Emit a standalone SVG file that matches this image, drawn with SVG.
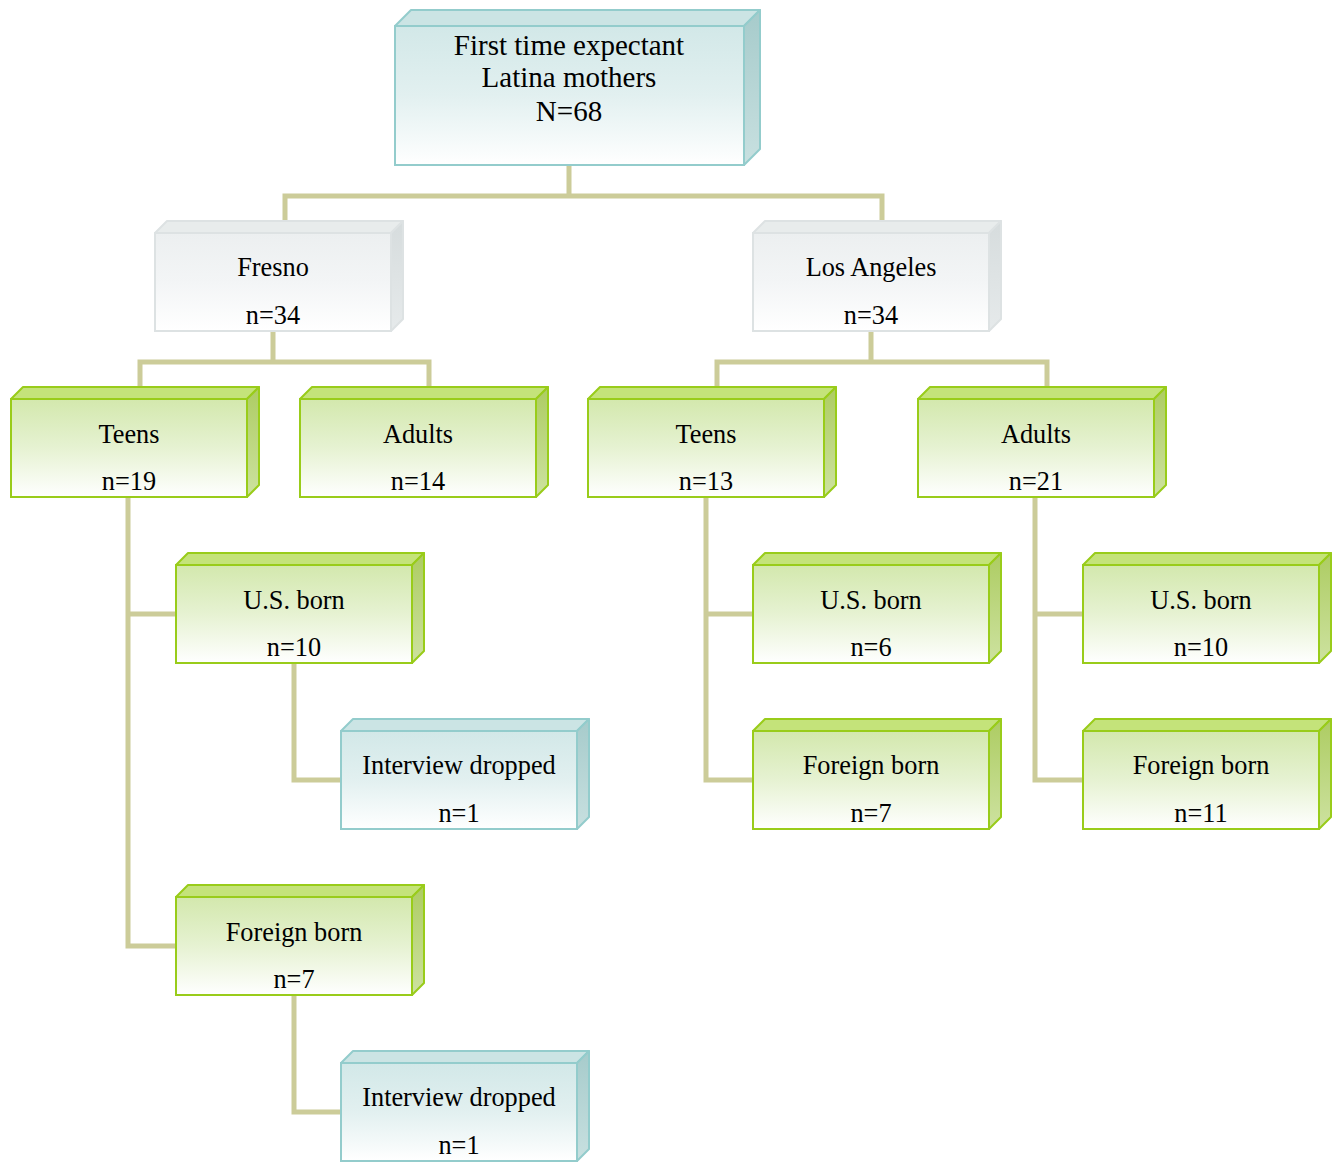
<svg xmlns="http://www.w3.org/2000/svg" width="1333" height="1162" viewBox="0 0 1333 1162">
<defs>
<linearGradient id="gG" x1="0" y1="0" x2="0" y2="1"><stop offset="0" stop-color="#d3e8ad"/><stop offset="0.5" stop-color="#e6f2d2"/><stop offset="1" stop-color="#ffffff"/></linearGradient>
<linearGradient id="gB" x1="0" y1="0" x2="0" y2="1"><stop offset="0" stop-color="#d2e8e8"/><stop offset="0.5" stop-color="#e2f0f0"/><stop offset="1" stop-color="#ffffff"/></linearGradient>
<linearGradient id="gW" x1="0" y1="0" x2="0" y2="1"><stop offset="0" stop-color="#eceff0"/><stop offset="0.5" stop-color="#f3f5f6"/><stop offset="1" stop-color="#ffffff"/></linearGradient>
<linearGradient id="gGs" x1="0" y1="0" x2="0" y2="1"><stop offset="0" stop-color="#adcc62"/><stop offset="1" stop-color="#cde2a0"/></linearGradient>
<linearGradient id="gBs" x1="0" y1="0" x2="0" y2="1"><stop offset="0" stop-color="#a6cbcb"/><stop offset="1" stop-color="#c8e0e0"/></linearGradient>
<linearGradient id="gWs" x1="0" y1="0" x2="0" y2="1"><stop offset="0" stop-color="#d6dcdd"/><stop offset="1" stop-color="#e6eaeb"/></linearGradient>
</defs>
<style>
.g .f{fill:url(#gG);stroke:#99cc1a;stroke-width:2}
.g .t{fill:#c4e37a;stroke:#99cc1a;stroke-width:2;stroke-linejoin:round}
.g .s{fill:url(#gGs);stroke:#99cc1a;stroke-width:2;stroke-linejoin:round}
.b .f{fill:url(#gB);stroke:#93cccc;stroke-width:2}
.b .t{fill:#cbe4e4;stroke:#93cccc;stroke-width:2;stroke-linejoin:round}
.b .s{fill:url(#gBs);stroke:#93cccc;stroke-width:2;stroke-linejoin:round}
.w .f{fill:url(#gW);stroke:#dde2e3;stroke-width:2}
.w .t{fill:#e8ecec;stroke:#dde2e3;stroke-width:2;stroke-linejoin:round}
.w .s{fill:url(#gWs);stroke:#dde2e3;stroke-width:2;stroke-linejoin:round}
text{font-family:'Liberation Serif','Times New Roman',serif;font-size:26.3px;fill:#000;text-anchor:middle}
text.big{font-size:29px}
#connectors path{fill:none;stroke:#cccc99;stroke-width:5}
</style>
<g id="connectors">
<path d="M569 165V196M285 221V196H882V221"/>
<path d="M273 331V362M140 387V362H429V387"/>
<path d="M871 331V362M717 387V362H1047V387"/>
<path d="M128 497V946H176M128 614H176"/>
<path d="M294 663V780H341"/>
<path d="M294 995V1112H341"/>
<path d="M706 497V780H753M706 614H753"/>
<path d="M1035 497V780H1083M1035 614H1083"/>
</g>
<g id="root" class="b">
<path class="t" d="M395 26L411 10H760L744 26Z"/>
<path class="s" d="M744 26L760 10V149L744 165Z"/>
<rect class="f" x="395" y="26" width="349" height="139"/>
<text class="big" x="569" y="55">First time expectant</text>
<text class="big" x="569" y="87">Latina mothers</text>
<text class="big" x="569" y="121">N=68</text>
</g>
<g id="fresno" class="w">
<path class="t" d="M155 233L167 221H403L391 233Z"/>
<path class="s" d="M391 233L403 221V319L391 331Z"/>
<rect class="f" x="155" y="233" width="236" height="98"/>
<text x="273" y="276">Fresno</text><text x="273" y="324">n=34</text>
</g>
<g id="la" class="w">
<path class="t" d="M753 233L765 221H1001L989 233Z"/>
<path class="s" d="M989 233L1001 221V319L989 331Z"/>
<rect class="f" x="753" y="233" width="236" height="98"/>
<text x="871" y="276">Los Angeles</text><text x="871" y="324">n=34</text>
</g>
<g id="f-teens" class="g">
<path class="t" d="M11 399L23 387H259L247 399Z"/>
<path class="s" d="M247 399L259 387V485L247 497Z"/>
<rect class="f" x="11" y="399" width="236" height="98"/>
<text x="129" y="442.5">Teens</text><text x="129" y="490">n=19</text>
</g>
<g id="f-adults" class="g">
<path class="t" d="M300 399L312 387H548L536 399Z"/>
<path class="s" d="M536 399L548 387V485L536 497Z"/>
<rect class="f" x="300" y="399" width="236" height="98"/>
<text x="418" y="442.5">Adults</text><text x="418" y="490">n=14</text>
</g>
<g id="la-teens" class="g">
<path class="t" d="M588 399L600 387H836L824 399Z"/>
<path class="s" d="M824 399L836 387V485L824 497Z"/>
<rect class="f" x="588" y="399" width="236" height="98"/>
<text x="706" y="442.5">Teens</text><text x="706" y="490">n=13</text>
</g>
<g id="la-adults" class="g">
<path class="t" d="M918 399L930 387H1166L1154 399Z"/>
<path class="s" d="M1154 399L1166 387V485L1154 497Z"/>
<rect class="f" x="918" y="399" width="236" height="98"/>
<text x="1036" y="442.5">Adults</text><text x="1036" y="490">n=21</text>
</g>
<g id="f-teens-us" class="g">
<path class="t" d="M176 565L188 553H424L412 565Z"/>
<path class="s" d="M412 565L424 553V651L412 663Z"/>
<rect class="f" x="176" y="565" width="236" height="98"/>
<text x="294" y="608.5">U.S. born</text><text x="294" y="656">n=10</text>
</g>
<g id="f-teens-us-drop" class="b">
<path class="t" d="M341 731L353 719H589L577 731Z"/>
<path class="s" d="M577 731L589 719V817L577 829Z"/>
<rect class="f" x="341" y="731" width="236" height="98"/>
<text x="459" y="774">Interview dropped</text><text x="459" y="822">n=1</text>
</g>
<g id="f-teens-fb" class="g">
<path class="t" d="M176 897L188 885H424L412 897Z"/>
<path class="s" d="M412 897L424 885V983L412 995Z"/>
<rect class="f" x="176" y="897" width="236" height="98"/>
<text x="294" y="940.5">Foreign born</text><text x="294" y="988">n=7</text>
</g>
<g id="f-teens-fb-drop" class="b">
<path class="t" d="M341 1063L353 1051H589L577 1063Z"/>
<path class="s" d="M577 1063L589 1051V1149L577 1161Z"/>
<rect class="f" x="341" y="1063" width="236" height="98"/>
<text x="459" y="1106">Interview dropped</text><text x="459" y="1154">n=1</text>
</g>
<g id="la-teens-us" class="g">
<path class="t" d="M753 565L765 553H1001L989 565Z"/>
<path class="s" d="M989 565L1001 553V651L989 663Z"/>
<rect class="f" x="753" y="565" width="236" height="98"/>
<text x="871" y="608.5">U.S. born</text><text x="871" y="656">n=6</text>
</g>
<g id="la-teens-fb" class="g">
<path class="t" d="M753 731L765 719H1001L989 731Z"/>
<path class="s" d="M989 731L1001 719V817L989 829Z"/>
<rect class="f" x="753" y="731" width="236" height="98"/>
<text x="871" y="774">Foreign born</text><text x="871" y="822">n=7</text>
</g>
<g id="la-adults-us" class="g">
<path class="t" d="M1083 565L1095 553H1331L1319 565Z"/>
<path class="s" d="M1319 565L1331 553V651L1319 663Z"/>
<rect class="f" x="1083" y="565" width="236" height="98"/>
<text x="1201" y="608.5">U.S. born</text><text x="1201" y="656">n=10</text>
</g>
<g id="la-adults-fb" class="g">
<path class="t" d="M1083 731L1095 719H1331L1319 731Z"/>
<path class="s" d="M1319 731L1331 719V817L1319 829Z"/>
<rect class="f" x="1083" y="731" width="236" height="98"/>
<text x="1201" y="774">Foreign born</text><text x="1201" y="822">n=11</text>
</g>
</svg>
